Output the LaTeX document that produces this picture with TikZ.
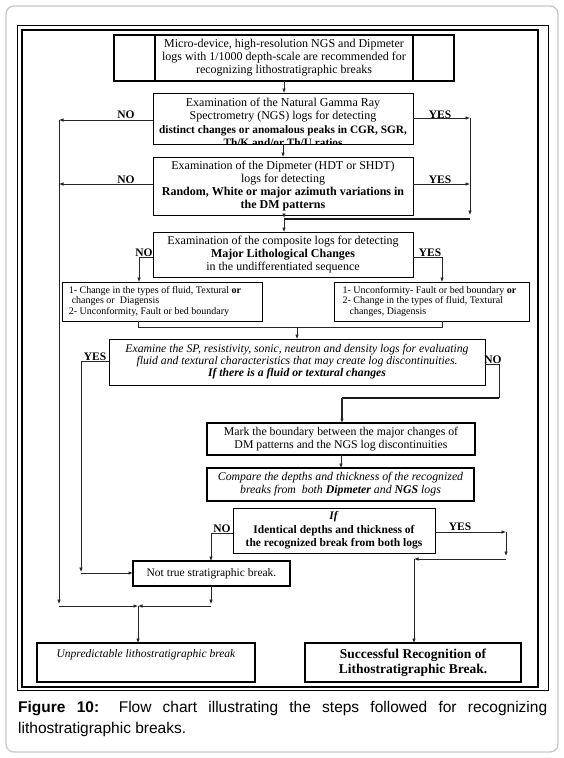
\documentclass[tikz,border=0pt]{standalone}
\usepackage{fontspec}
\setmainfont{Liberation Serif}
\newfontfamily\capfont{Liberation Sans}
\usetikzlibrary{arrows.meta}
\newcommand{\fs}[2]{\fontsize{#1}{#2}\selectfont}
\tikzset{
  box/.style={draw, line width=0.8pt, inner sep=0pt, outer sep=0pt, anchor=north west, align=center, font=\fs{12}{13}},
  boldbox/.style={box, line width=1.5pt},
  lbl/.style={font=\fs{11.5}{12}\bfseries, inner sep=0pt},
  con/.style={line width=0.7pt, draw=black!85},
  arr/.style={con, -{Latex[length=4.5pt,width=3.6pt]}},
  thickcon/.style={line width=1.6pt, draw=black!90},
}
\begin{document}
\begin{tikzpicture}[x=1pt,y=-1pt]
\useasboundingbox (0,0) rectangle (564,758);
% outer rounded frame
\draw[draw=black!22, line width=1.3pt, rounded corners=8pt] (6,6) rectangle (558,752);
% figure frame
\draw[line width=0.8pt] (17,25) rectangle (548,690);
\draw[line width=2.5pt] (22,30) rectangle (538,687);

% top box
\node[boldbox, minimum width=340pt, minimum height=46pt] (T) at (114,35)
  {Micro-device, high-resolution NGS and Dipmeter\\logs with 1/1000 depth-scale are recommended for\\recognizing lithostratigraphic breaks};
\draw[line width=1.5pt] ([xshift=41pt]T.north west) -- ([xshift=41pt]T.south west);
\draw[line width=1.5pt] ([xshift=-41pt]T.north east) -- ([xshift=-41pt]T.south east);

% box 2 (text clipped by the frame)
\node[box, minimum width=260pt, minimum height=51pt] (b2) at (153,93) {};
\begin{scope}
\clip (b2.north west) rectangle (b2.south east);
\node[align=center, inner sep=0pt, font=\fs{12}{13.5}, anchor=north] (b2t) at ([yshift=-4.5pt]b2.north)
  {Examination of the Natural Gamma Ray\\Spectrometry (NGS) logs for detecting\\{\fs{11.3}{13.5}\textbf{distinct changes or anomalous peaks in CGR, SGR,}}\\{\fs{11.3}{13.5}\textbf{Th/K and/or Th/U ratios}}};
\end{scope}

% box 3
\node[box, minimum width=260pt, minimum height=58pt] (b3) at (153,157)
  {Examination of the Dipmeter (HDT or SHDT)\\logs for detecting\\\textbf{Random, White or major azimuth variations in}\\\textbf{the DM patterns}};

% box 4
\node[box, minimum width=260pt, minimum height=45pt] (b4) at (153,232)
  {Examination of the composite logs for detecting\\\textbf{Major Lithological Changes}\\in the undifferentiated sequence};

% box 5 left / right
\node[box, minimum width=200pt, minimum height=39pt, align=left, font=\fs{10}{10.3}] (b5l) at (62,282)
  {1- Change in the types of fluid, Textural \textbf{or}\\\hspace*{3pt}changes or\ \ Diagensis\\2- Unconformity, Fault or bed boundary\hspace*{26pt}};
\node[box, minimum width=195pt, minimum height=39pt, align=left, font=\fs{10}{10.3}] (b5r) at (334,282)
  {1- Unconformity- Fault or bed boundary \textbf{or}\hspace*{4pt}\\2- Change in the types of fluid, Textural\\\hspace*{7pt}changes, Diagensis};

% box 6
\node[box, minimum width=376pt, minimum height=46pt, font=\fs{11.7}{12}\itshape] (b6) at (109,339)
  {Examine the SP, resistivity, sonic, neutron and density logs for evaluating\\fluid and textural characteristics that may create log discontinuities.\\\textbf{If there is a fluid or textural changes}};

% box 7
\node[boldbox, line width=1.3pt, minimum width=268pt, minimum height=32pt, font=\fs{11.8}{13}] (b7) at (207,423)
  {Mark the boundary between the major changes of\\DM patterns and the NGS log discontinuities};

% box 8
\node[boldbox, line width=1.3pt, minimum width=267pt, minimum height=33pt, font=\fs{11.8}{13}\itshape] (b8) at (207,468)
  {Compare the depths and thickness of the recognized\\breaks from\ \ both \textbf{Dipmeter} and \textbf{NGS} logs};

% box 9
\node[box, minimum width=202pt, minimum height=45pt, font=\fs{11.5}{13.5}\bfseries] (b9) at (233,508)
  {\textit{If}\\Identical depths and thickness of\\the recognized break from both logs};

% box 10
\node[boldbox, minimum width=157pt, minimum height=25pt, font=\fs{11.5}{13}] (b10) at (133,561)
  {Not true stratigraphic break.};

% box 11 and 12
\node[boldbox, line width=1.2pt, minimum width=218pt, minimum height=39pt, font=\fs{11.5}{14}\itshape] (b11) at (37,643)
  {Unpredictable lithostratigraphic break\\\strut};
\node[boldbox, line width=1.2pt, minimum width=216pt, minimum height=39pt, font=\fs{13.5}{14.5}\bfseries] (b12) at (305,643)
  {Successful Recognition of\\Lithostratigraphic Break.};

% ---------- connectors ----------
\draw[arr] (T.south) -- (T.south |- b2.north);
\draw[arr] (b2.south) -- (b3.north);

\coordinate (nL1) at (59,120);
\coordinate (nL2) at (59,184);
\coordinate (nL3) at (59,604);
\draw[arr] (b2.west |- nL1) -- (nL1);
\draw[arr] (b3.west |- nL2) -- (nL2);
\draw[arr] (nL1) -- (nL3);
\node[lbl] (no1) at (126,115) {NO};
\node[lbl] (no2) at (126,180) {NO};

\coordinate (yR1) at (470,118);
\coordinate (yR2) at (470,184);
\coordinate (yR3) at (470,215);
\coordinate (yR4) at (470,219);
\coordinate (j1) at (284,219);
\draw[arr] (b2.east |- yR1) -- (yR1);
\draw[arr] (b3.east |- yR2) -- (yR2);
\draw[arr] (yR1) -- (yR3);
\draw[thickcon] (yR4) -- (j1);
\draw[arr] (b3.south -| j1) -- ([yshift=1pt]j1);
\draw[arr] (j1) -- (j1 |- b4.north);
\node[lbl] (yes1) at (440,115) {YES};
\node[lbl] (yes2) at (440,180) {YES};

\coordinate (n4) at (139,257);
\coordinate (y4) at (442,257);
\draw[arr] (b4.west |- n4) -- (n4) -- (n4 |- b5l.north);
\draw[arr] (b4.east |- y4) -- (y4) -- (y4 |- b5r.north);
\node[lbl, anchor=south] (no4) at (144,256.5) {NO};
\node[lbl, anchor=south] (yes4) at (430,256.5) {YES};

\coordinate (m1) at (138,327);
\coordinate (m2) at (442,327);
\coordinate (m3) at (297,327);
\draw[con] (m1 |- b5l.south) -- (m1) -- (m2) -- (m2 |- b5r.south);
\draw[arr] (m3) -- (m3 |- b6.north);

\coordinate (y6) at (81,361);
\coordinate (y6b) at (81,572);
\coordinate (y6c) at (81,573);
\draw[arr] (b6.west |- y6) -- (y6) -- (y6b);
\draw[arr] (y6c) -- (y6c -| b10.west);
\node[lbl, anchor=south] (yes6) at (95,360.5) {YES};

\coordinate (n6) at (499,364);
\coordinate (n6b) at (499,398);
\coordinate (n6c) at (342,398);
\draw[con] (b6.east |- n6) -- (n6) -- (n6b);
\draw[thickcon] ([xshift=0.3pt]n6b) -- (n6c);
\draw[arr, line width=1.2pt] (n6c) -- (n6c |- b7.north);
\node[lbl, anchor=south] (no6) at (493,363.5) {NO};

\draw[arr] (b7.south) -- (b7.south |- b8.north);

\coordinate (n9) at (211,533);
\draw[arr] (b9.west |- n9) -- (n9) -- (n9 |- b10.north);
\node[lbl, anchor=south] (no9) at (222,532.5) {NO};

\coordinate (y9) at (506,532);
\coordinate (y9b) at (506,556);
\coordinate (y9c) at (506,559);
\coordinate (y9d) at (414,559);
\draw[arr] (b9.east |- y9) -- (y9);
\draw[arr] (y9) -- (y9b);
\draw[arr] (y9c) -- (y9d);
\draw[arr] (y9d) -- (y9d |- b12.north);
\node[lbl] (yes9) at (460,527) {YES};

\coordinate (k1) at (211,604);
\coordinate (k2) at (59,606);
\coordinate (k3) at (138,606);
\coordinate (k4) at (211,606);
\draw[arr] (b10.south -| k1) -- (k1);
\draw[arr] (k2) -- (k3);
\draw[arr] (k4) -- (k3);
\draw[arr] (k3) -- (k3 |- b11.north);

% caption
\node[anchor=north west, inner sep=0pt, text width=529pt, align=justify, font=\capfont\fs{15.5}{21}] (cap) at (18,701)
  {\textbf{Figure 10:} Flow chart illustrating the steps followed for recognizing\linebreak lithostratigraphic breaks.};
\end{tikzpicture}
\end{document}
